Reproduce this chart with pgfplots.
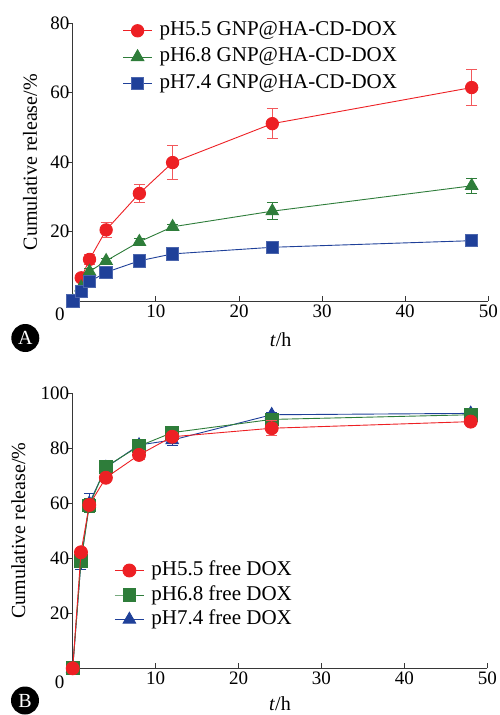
\documentclass[border=0pt]{standalone}
\usepackage{fontspec}
\setmainfont{Liberation Serif}
\usepackage{pgfplots}
\pgfplotsset{compat=1.18}

\definecolor{cred}{RGB}{237,32,36}
\definecolor{cgreen}{RGB}{46,125,58}
\definecolor{cblue}{RGB}{31,64,153}
\definecolor{axgray}{RGB}{55,55,55}

\tikzset{zerolabel/.style={font=\fontsize{19}{22}\selectfont, anchor=north, inner sep=0pt}}

\pgfplotsset{
  panel/.style={
    scale only axis, clip mode=individual,
    axis x line*=bottom, axis y line*=left,
    axis line style={axgray, line width=1pt},
    tick style={axgray, line width=1pt},
    tick align=inside, major tick length=5.5pt,
    ytick style={xshift=-5.5pt},
    xmin=0, xmax=50, xtick={10,20,30,40,50},
    tick label style={font=\fontsize{19}{22}\selectfont},
    /pgf/number format/assume math mode=true,
    xlabel={\textit{t}/h},
    ylabel={Cumulative release/\%},
    legend style={draw=none, fill=none, font=\fontsize{21}{24}\selectfont,
      nodes={inner sep=1pt, text height=14pt, text depth=4pt},
      column sep=6pt},
    legend cell align=left,
    legend image code/.code={\draw[#1, mark repeat=2, mark phase=2]
      plot coordinates {(0pt,0pt) (14.5pt,0pt) (29pt,0pt)};},
  },
  ebar/.style={error bars/.cd, y dir=both, y explicit,
    error mark=|,
    error mark options={mark size=5.5pt, line width=0.9pt, draw=#1},
    error bar style={line width=0.9pt, draw=#1}},
}

\begin{document}
\begin{tikzpicture}
\useasboundingbox (0,0) rectangle (500pt,-715pt);

% panel A
\begin{axis}[panel,
  at={(72.9pt,-301.1pt)}, anchor=south west,
  width=415.4pt, height=277.8pt,
  ymin=0, ymax=80, ytick={20,40,60,80},
  every axis x label/.style={at={(axis description cs:0.5,0)}, anchor=center, yshift=-39pt,
    font=\fontsize{20}{24}\selectfont},
  every axis y label/.style={at={(axis description cs:-0.1033,0.5)}, rotate=90, anchor=center,
    font=\fontsize{20}{24}\selectfont},
  legend style={at={(axis description cs:0.112,1.017)}, anchor=north west, row sep=6.2pt},
]
\addplot[cred, line width=0.9pt, mark=*, mark size=6.2pt, mark options={solid, fill=cred, draw=cred},
  ebar={cred!75}] coordinates {
  (0,0) +- (0,0)
  (1,6.7) +- (0,1.0)
  (2,12.0) +- (0,1.5)
  (4,20.5) +- (0,2.2)
  (8,31.0) +- (0,2.5)
  (12,39.9) +- (0,5.0)
  (24,51.1) +- (0,4.3)
  (48,61.5) +- (0,5.2)
};
\addlegendentry{pH5.5 GNP@HA-CD-DOX}
\addplot[cgreen, line width=0.9pt, mark=triangle*, mark size=7.2pt, mark options={solid, fill=cgreen, draw=cgreen},
  ebar={cgreen}] coordinates {
  (0,0) +- (0,0)
  (1,4.0) +- (0,0.5)
  (2,8.5) +- (0,1.0)
  (4,11.6) +- (0,0.8)
  (8,17.1) +- (0,0.8)
  (12,21.4) +- (0,0.8)
  (24,25.9) +- (0,2.5)
  (48,33.2) +- (0,2.1)
};
\addlegendentry{pH6.8 GNP@HA-CD-DOX}
\addplot[cblue, line width=0.9pt, mark=square*, mark size=6.2pt, mark options={solid, fill=cblue, draw=cblue!80},
  ebar={cblue}] coordinates {
  (0,0.1) +- (0,0)
  (1,2.7) +- (0,0.5)
  (2,5.6) +- (0,0.8)
  (4,8.3) +- (0,0.8)
  (8,11.6) +- (0,0.8)
  (12,13.6) +- (0,0.8)
  (24,15.5) +- (0,0.8)
  (48,17.4) +- (0,1.2)
};
\addlegendentry{pH7.4 GNP@HA-CD-DOX}
\node[zerolabel] at (rel axis cs:0,0) [xshift=-13pt, yshift=-7pt] {0};
\end{axis}

% panel B
\begin{axis}[panel,
  at={(72.7pt,-668.3pt)}, anchor=south west,
  width=414.6pt, height=275pt,
  ymin=0, ymax=100, ytick={20,40,60,80,100},
  every axis x label/.style={at={(axis description cs:0.5,0)}, anchor=center, yshift=-35pt,
    font=\fontsize{20}{24}\selectfont},
  every axis y label/.style={at={(axis description cs:-0.131,0.5)}, rotate=90, anchor=center,
    font=\fontsize{20}{24}\selectfont},
  legend style={at={(axis description cs:0.093,0.40)}, anchor=north west, row sep=4.5pt},
  reverse legend,
]
\addplot[cblue, line width=0.9pt, mark=triangle*, mark size=7.2pt, mark options={solid, fill=cblue, draw=cblue},
  ebar={cblue}] coordinates {
  (0,0) +- (0,0)
  (1,38.8) +- (0,3.0)
  (2,60.0) +- (0,3.5)
  (4,73.0) +- (0,1.0)
  (8,81.2) +- (0,1.0)
  (12,83.0) +- (0,2.0)
  (24,92.2) +- (0,0.8)
  (48,92.7) +- (0,0.8)
};
\addlegendentry{pH7.4 free DOX}
\addplot[cgreen, line width=0.9pt, mark=square*, mark size=6.4pt, mark options={solid, fill=cgreen, draw=cgreen},
  ebar={cgreen}] coordinates {
  (0,0) +- (0,0)
  (1,39.0) +- (0,2.0)
  (2,59.2) +- (0,2.5)
  (4,73.3) +- (0,1.0)
  (8,80.8) +- (0,1.0)
  (12,85.7) +- (0,1.5)
  (24,90.5) +- (0,1.0)
  (48,92.2) +- (0,0.8)
};
\addlegendentry{pH6.8 free DOX}
\addplot[cred, line width=0.9pt, mark=*, mark size=6.5pt, mark options={solid, fill=cred, draw=cred},
  ebar={cred!75}] coordinates {
  (0,0) +- (0,0)
  (1,42.2) +- (0,1.0)
  (2,59.4) +- (0,1.0)
  (4,69.3) +- (0,1.0)
  (8,77.6) +- (0,1.5)
  (12,84.2) +- (0,1.5)
  (24,87.3) +- (0,2.8)
  (48,89.7) +- (0,0.8)
};
\addlegendentry{pH5.5 free DOX}
\node[zerolabel] at (rel axis cs:0,0) [xshift=-13pt, yshift=-7pt] {0};
\end{axis}

% panel letters
\node[circle, fill=black, text=white, minimum size=28pt, inner sep=0pt,
  font=\fontsize{20}{24}\selectfont] at (25.3pt,-338pt) {A};
\node[circle, fill=black, text=white, minimum size=28pt, inner sep=0pt,
  font=\fontsize{20}{24}\selectfont] at (25pt,-700.5pt) {B};
\end{tikzpicture}
\end{document}
